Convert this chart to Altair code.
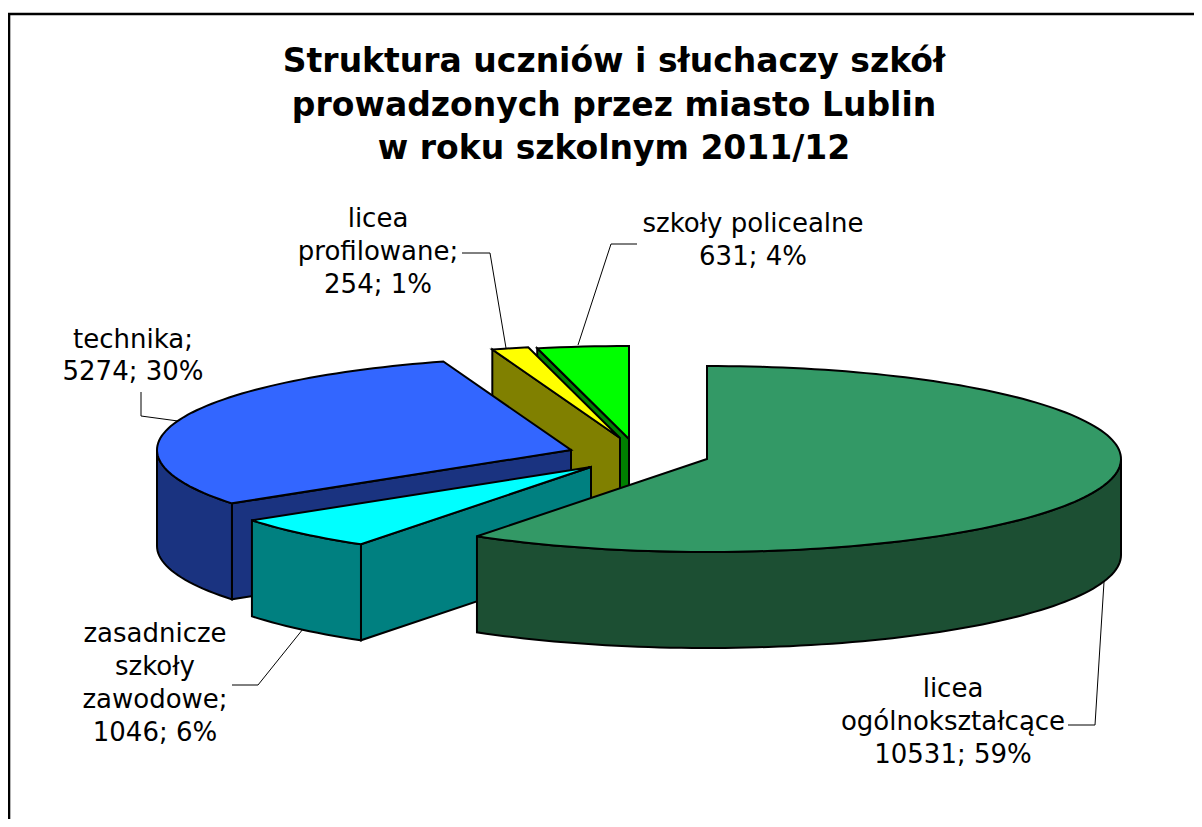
import math
import altair as alt

# ---- values
categories = ["licea ogólnokształcące", "zasadnicze szkoły zawodowe", "technika",
              "licea profilowane", "szkoły policealne"]
values = [10531, 1046, 5274, 254, 631]
top_colors = ["#339966", "#00FFFF", "#3366FF", "#FFFF00", "#00FF00"]
side_colors = ["#1C4F33", "#008080", "#1A3380", "#808000", "#008000"]
title_lines = ["Struktura uczniów i słuchaczy szkół",
               "prowadzonych przez miasto Lublin",
               "w roku szkolnym 2011/12"]
label_lines = [
    ["licea", "ogólnokształcące", "10531; 59%"],
    ["zasadnicze", "szkoły", "zawodowe;", "1046; 6%"],
    ["technika;", "5274; 30%"],
    ["licea", "profilowane;", "254; 1%"],
    ["szkoły policealne", "631; 4%"],
]

# ---- pie geometry (page pixels, minus the 8px page margin)
M = 8
RX, RY, DEPTH = 414, 93, 96
apex = [(707, 459), (591, 467), (571, 450), (620, 438), (629, 439)]
label_pos = [(953, 689, 33), (155, 634, 33), (133, 340, 32), (378, 219, 33), (753, 224, 33)]
leaders = [
    [(1104, 582), (1095, 725), (1068, 725)],
    [(303, 629), (258, 685), (232, 685)],
    [(178, 421), (141, 416), (141, 392)],
    [(506, 348), (490, 253), (462, 253)],
    [(578, 345), (611, 244), (637, 244)],
]
frame = [(9, 827), (9, 14), (1202, 14)]

total = sum(values)


def pt(c, a, dz=0):
    r = math.radians(a)
    return [c[0] + RX * math.sin(r) - M, c[1] - RY * math.cos(r) + dz - M]


def arc(c, a0, a1, dz=0):
    n = max(2, int(abs(a1 - a0) / 1.5) + 1)
    return [pt(c, a0 + (a1 - a0) * i / (n - 1), dz) for i in range(n)]


def poly(points, fill):
    ring = points + [points[0]]
    return {"type": "Feature", "properties": {"fill": fill},
            "geometry": {"type": "Polygon", "coordinates": [ring]}}


def line(points):
    return {"type": "Feature", "properties": {},
            "geometry": {"type": "LineString",
                         "coordinates": [[x - M, y - M] for x, y in points]}}


bounds, a = [], 0.0
for v in values:
    bounds.append((a, a + v / total * 360))
    a += v / total * 360

features = []
for i in [4, 3, 2, 1, 0]:  # back to front
    c, (a0, a1) = apex[i], bounds[i]
    c0 = [c[0] - M, c[1] - M]
    if 180 < a0 < 360:  # visible radial wall
        features.append(poly([c0, pt(c, a0), pt(c, a0, DEPTH), [c0[0], c0[1] + DEPTH]], side_colors[i]))
    lo, hi = max(a0, 90), min(a1, 270)
    if lo < hi:  # visible outer wall
        features.append(poly(arc(c, lo, hi) + arc(c, hi, lo, DEPTH), side_colors[i]))
    features.append(poly([c0] + arc(c, a0, a1), top_colors[i]))

proj = dict(type="identity", scale=1, translate=[0, 0])

pie = alt.Chart(alt.Data(values=features)).mark_geoshape(
    stroke="black", strokeWidth=2, strokeJoin="miter"
).encode(fill=alt.Fill("properties.fill:N", scale=None)).project(**proj)

lead = alt.Chart(alt.Data(values=[line(l) for l in leaders])).mark_geoshape(
    filled=False, stroke="black", strokeWidth=1
).project(**proj)

border = alt.Chart(alt.Data(values=[line(frame)])).mark_geoshape(
    filled=False, stroke="black", strokeWidth=2.6
).project(**proj)

rows = []
for lines, (x, y, step) in zip(label_lines, label_pos):
    for j, t in enumerate(lines):
        rows.append({"t": t, "x": x - M, "y": y + j * step - M})
labels = alt.Chart(alt.Data(values=rows)).mark_text(
    font="DejaVu Sans", fontSize=26, align="center", baseline="middle", color="black"
).encode(x=alt.X("x:Q", scale=None, axis=None), y=alt.Y("y:Q", scale=None, axis=None), text="t:N")

title_rows = [{"t": t, "x": 614 - M, "y": 62 + j * 43.5 - M} for j, t in enumerate(title_lines)]
title = alt.Chart(alt.Data(values=title_rows)).mark_text(
    font="DejaVu Sans", fontSize=33, fontWeight="bold", align="center", baseline="middle", color="black"
).encode(x=alt.X("x:Q", scale=None, axis=None), y=alt.Y("y:Q", scale=None, axis=None), text="t:N")

chart = alt.layer(border, lead, pie, labels, title).properties(
    width=1186, height=811, padding=0, autosize=alt.AutoSizeParams(type="none"),
    background="white"
).configure_view(stroke=None)

chart.save("out.html", embed_options={"renderer": "svg", "actions": False})
